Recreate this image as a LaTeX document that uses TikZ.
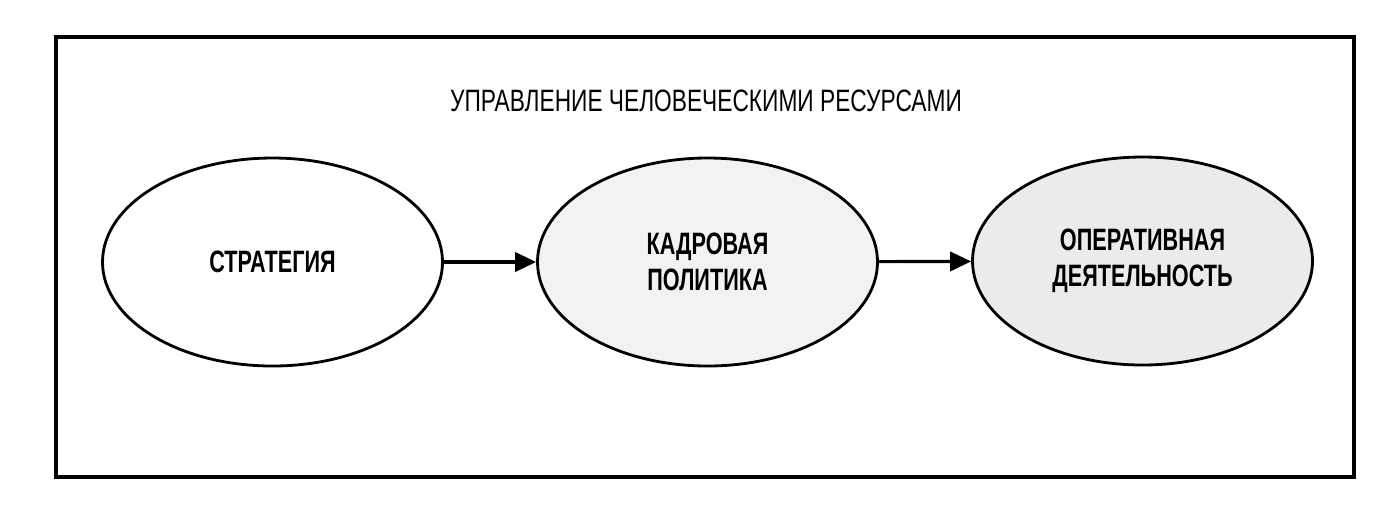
\documentclass[tikz,border=0pt]{standalone}
\usepackage{fontspec}
\setmainfont{Liberation Sans}
\newfontfamily\titlefont{Liberation Sans}[FakeStretch=0.735]
\newfontfamily\boxfont{Liberation Sans}[FakeStretch=0.70]
\usetikzlibrary{arrows.meta,shapes.geometric}
\tikzset{
  stage/.style={draw, line width=0.8pt, ellipse, inner sep=0pt,
    minimum width=3.4cm, minimum height=2.08cm, align=center,
    font=\boxfont\bfseries\fontsize{8.8}{10.3}\selectfont},
  frame/.style={draw, line width=0.9pt}
}
\begin{document}
\begin{tikzpicture}
      \useasboundingbox (0,0) rectangle (13.92,5.21);
      \draw[frame] (0.56,0.44) rectangle (13.54,4.84);
      \draw
        (7.06,4.10) node[anchor=base, font=\titlefont\fontsize{8.8}{10.3}\selectfont] (t){УПРАВЛЕНИЕ ЧЕЛОВЕЧЕСКИМИ РЕСУРСАМИ}
        (2.725,2.59) node[stage] (0){СТРАТЕГИЯ}
        (7.075,2.59) node[stage, fill=black!5] (1){КАДРОВАЯ\\ПОЛИТИКА}
        (11.425,2.60) node[stage, fill=black!8] (2){ОПЕРАТИВНАЯ\\ДЕЯТЕЛЬНОСТЬ};
      \begin{scope}[-{Triangle[length=6pt, width=5.5pt]}, line width=0.9pt]
        \draw (0) to (1);
        \draw (1) to (2);
      \end{scope}
    \end{tikzpicture}
\end{document}
